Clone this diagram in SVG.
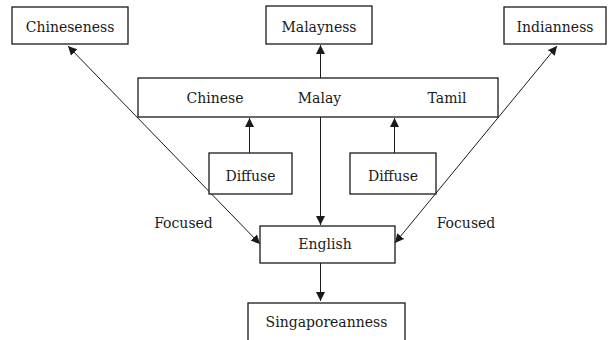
<svg xmlns="http://www.w3.org/2000/svg" width="611" height="340" viewBox="0 0 611 340">
  <style>
    .box { fill: #ffffff; stroke: #1a1a1a; stroke-width: 1.3; }
    .lbl { font-family: "DejaVu Serif", serif; font-size: 14px; fill: #1a1a1a; text-anchor: middle; }
    .edge { fill: none; stroke: #1a1a1a; stroke-width: 1; }
  </style>
  <defs>
    <marker id="arrow" viewBox="0 0 10 10" refX="10" refY="5" markerWidth="9" markerHeight="9" markerUnits="userSpaceOnUse" orient="auto-start-reverse">
      <path d="M0,0 L10,5 L0,10 Z" fill="#1a1a1a"/>
    </marker>
  </defs>
  <rect width="611" height="340" fill="#ffffff"/>

  <g id="edges">
    <!-- Malay row to Malayness -->
    <line class="edge" x1="320.5" y1="78" x2="320.5" y2="45" marker-end="url(#arrow)"/>
    <!-- Diffuse boxes up to Chinese / Tamil -->
    <line class="edge" x1="249.5" y1="153" x2="249.5" y2="118" marker-end="url(#arrow)"/>
    <line class="edge" x1="394.5" y1="153" x2="394.5" y2="118" marker-end="url(#arrow)"/>
    <!-- Malay down to English -->
    <line class="edge" x1="320.5" y1="117" x2="320.5" y2="225" marker-end="url(#arrow)"/>
    <!-- English down to Singaporeanness -->
    <line class="edge" x1="320.5" y1="263" x2="320.5" y2="301" marker-end="url(#arrow)"/>
    <!-- Focused links, both directions -->
    <line class="edge" x1="68" y1="46" x2="260" y2="244" marker-start="url(#arrow)" marker-end="url(#arrow)"/>
    <line class="edge" x1="557" y1="46" x2="395" y2="243" marker-start="url(#arrow)" marker-end="url(#arrow)"/>
  </g>

  <g id="chineseness">
    <rect class="box" x="12" y="7" width="116" height="37"/>
    <text class="lbl" x="70" y="32">Chineseness</text>
  </g>
  <g id="malayness">
    <rect class="box" x="266" y="6" width="106" height="38"/>
    <text class="lbl" x="319" y="32">Malayness</text>
  </g>
  <g id="indianness">
    <rect class="box" x="504" y="7" width="102" height="37"/>
    <text class="lbl" x="555" y="32">Indianness</text>
  </g>
  <g id="languages">
    <rect class="box" x="138" y="78" width="360" height="39"/>
    <text class="lbl" x="215" y="103">Chinese</text>
    <text class="lbl" x="319.5" y="103">Malay</text>
    <text class="lbl" x="447" y="103">Tamil</text>
  </g>
  <g id="diffuse-left">
    <rect class="box" x="209" y="153" width="83" height="41"/>
    <text class="lbl" x="250.5" y="181">Diffuse</text>
  </g>
  <g id="diffuse-right">
    <rect class="box" x="350" y="153" width="86" height="41"/>
    <text class="lbl" x="393" y="181">Diffuse</text>
  </g>
  <g id="english">
    <rect class="box" x="260" y="226" width="135" height="37"/>
    <text class="lbl" x="325" y="249">English</text>
  </g>
  <g id="singaporeanness">
    <rect class="box" x="248" y="303" width="157" height="45"/>
    <text class="lbl" x="326.5" y="327">Singaporeanness</text>
  </g>
  <g id="focused-labels">
    <text class="lbl" x="183.5" y="228">Focused</text>
    <text class="lbl" x="466" y="228">Focused</text>
  </g>
</svg>
